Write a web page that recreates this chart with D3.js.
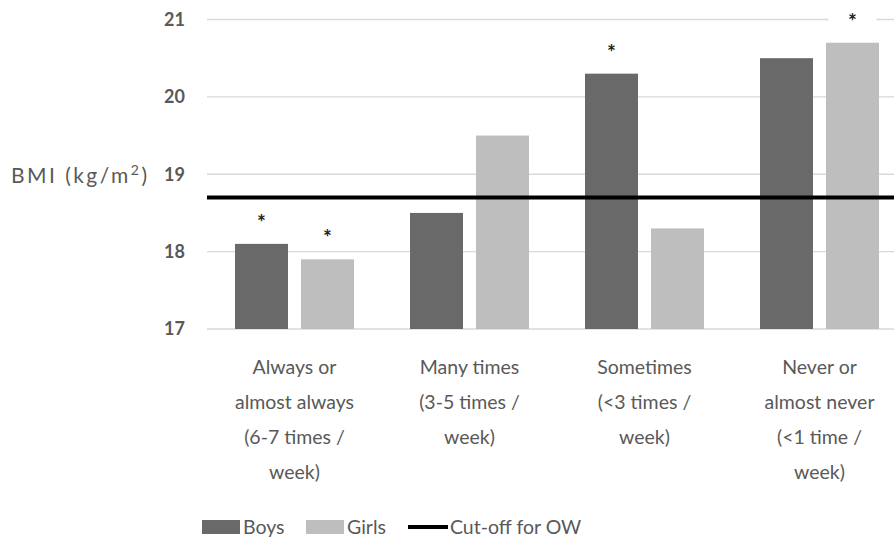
<!DOCTYPE html>
<html>
<head>
<meta charset="utf-8">
<script src="https://cdn.jsdelivr.net/npm/d3@7"></script>
<style>
  html, body { margin: 0; padding: 0; background: #fff; }
  svg { display: block; font-family: Lato, "Open Sans", sans-serif; }
</style>
</head>
<body>
<svg id="chart" width="894" height="540"></svg>
<script>
// Frequency of breakfast consumption
const categories = ["always", "many", "sometimes", "never"];
const categoryLines = [
  ["Always or", "almost always", "(6-7 times /", "week)"],
  ["Many times", "(3-5 times /", "week)"],
  ["Sometimes", "(<3 times /", "week)"],
  ["Never or", "almost never", "(<1 time /", "week)"]
];
const seriesNames = ["Boys", "Girls"];
const boysBMI = [18.1, 18.5, 20.3, 20.5];
const girlsBMI = [17.9, 19.5, 18.3, 20.7];
const boysSignificant = [true, false, true, false];
const girlsSignificant = [true, false, false, true];
const cutoffOW = 18.7;
const yTicks = [17, 18, 19, 20, 21];

const colors = { Boys: "#696969", Girls: "#bebebe" };
const textColor = "#595959";

const svg = d3.select("#chart");

const y = d3.scaleLinear().domain([17, 21]).range([329, 19.5]);
const x0 = d3.scaleBand().domain(categories).range([207, 907])
  .paddingInner(0.32).paddingOuter(0.16);
const x1 = d3.scaleBand().domain(seriesNames).range([0, x0.bandwidth()])
  .paddingInner(13 / 66);

const rows = categories.map((c, i) => ({
  cat: c,
  values: [
    { s: "Boys", v: boysBMI[i], sig: boysSignificant[i] },
    { s: "Girls", v: girlsBMI[i], sig: girlsSignificant[i] }
  ]
}));

// Gridlines
svg.append("g")
  .selectAll("line")
  .data(yTicks)
  .join("line")
  .attr("x1", 207).attr("x2", 894)
  .attr("y1", d => y(d)).attr("y2", d => y(d))
  .attr("stroke", "#d9d9d9").attr("stroke-width", 1.3);

// Y tick labels
const yAxis = d3.axisLeft(y).tickValues(yTicks).tickSize(0).tickPadding(0).tickFormat(d3.format("d"));
const ya = svg.append("g").attr("transform", "translate(185,0)").call(yAxis);
ya.select(".domain").remove();
ya.selectAll("text")
  .attr("font-family", "Lato, 'Open Sans', sans-serif")
  .attr("font-size", 18).attr("font-weight", "bold").attr("fill", textColor);

// Y axis title
const yt = svg.append("text")
  .attr("x", 11).attr("y", 183)
  .attr("font-size", 21).attr("fill", textColor)
  .attr("textLength", 136).attr("lengthAdjust", "spacing");
yt.append("tspan").text("BMI (kg/m");
yt.append("tspan").text("2").attr("font-size", 14).attr("dy", -8);
yt.append("tspan").text(")").attr("dy", 8);

// Bars
const groups = svg.append("g").selectAll("g")
  .data(rows).join("g")
  .attr("transform", d => `translate(${x0(d.cat)},0)`);

groups.selectAll("rect")
  .data(d => d.values).join("rect")
  .attr("x", d => x1(d.s))
  .attr("width", x1.bandwidth())
  .attr("y", d => y(d.v))
  .attr("height", d => y(17) - y(d.v))
  .attr("fill", d => colors[d.s]);

// Significance markers
const marks = groups.selectAll("g.sig")
  .data(d => d.values.filter(v => v.sig)).join("g")
  .attr("class", "sig")
  .attr("transform", d => `translate(${x1(d.s) + x1.bandwidth() / 2},${y(d.v) - 23})`);
marks.append("rect")
  .attr("x", -24).attr("y", -9).attr("width", 48).attr("height", 18)
  .attr("fill", "#fff");
marks.append("text")
  .attr("text-anchor", "middle").attr("dy", 9)
  .attr("font-size", 21).attr("font-weight", "bold").attr("fill", "#222")
  .text("*");

// Cut-off line for overweight
svg.append("line")
  .attr("x1", 207).attr("x2", 894)
  .attr("y1", y(cutoffOW)).attr("y2", y(cutoffOW))
  .attr("stroke", "#000").attr("stroke-width", 4);

// Category labels
const xl = svg.append("g").selectAll("text")
  .data(categories).join("text")
  .attr("x", d => x0(d) + x0.bandwidth() / 2)
  .attr("text-anchor", "middle")
  .attr("font-size", 19.5).attr("fill", textColor);
xl.selectAll("tspan")
  .data((d, i) => categoryLines[i]).join("tspan")
  .attr("x", function () { return d3.select(this.parentNode).attr("x"); })
  .attr("y", (d, i) => 374 + i * 35)
  .text(d => d);

// Legend
const legend = svg.append("g");
const legendItems = [
  { type: "rect", label: "Boys", color: colors.Boys, x: 202, tx: 243 },
  { type: "rect", label: "Girls", color: colors.Girls, x: 306, tx: 347 },
  { type: "line", label: "Cut-off for OW", color: "#000", x: 408, tx: 450 }
];
legendItems.forEach(it => {
  if (it.type === "rect") {
    legend.append("rect").attr("x", it.x).attr("y", 520).attr("width", 38).attr("height", 14).attr("fill", it.color);
  } else {
    legend.append("line").attr("x1", it.x).attr("x2", it.x + 40).attr("y1", 527).attr("y2", 527)
      .attr("stroke", it.color).attr("stroke-width", 4);
  }
  legend.append("text").attr("x", it.tx).attr("y", 534)
    .attr("font-size", 19.5).attr("fill", textColor).text(it.label);
});
</script>
</body>
</html>
